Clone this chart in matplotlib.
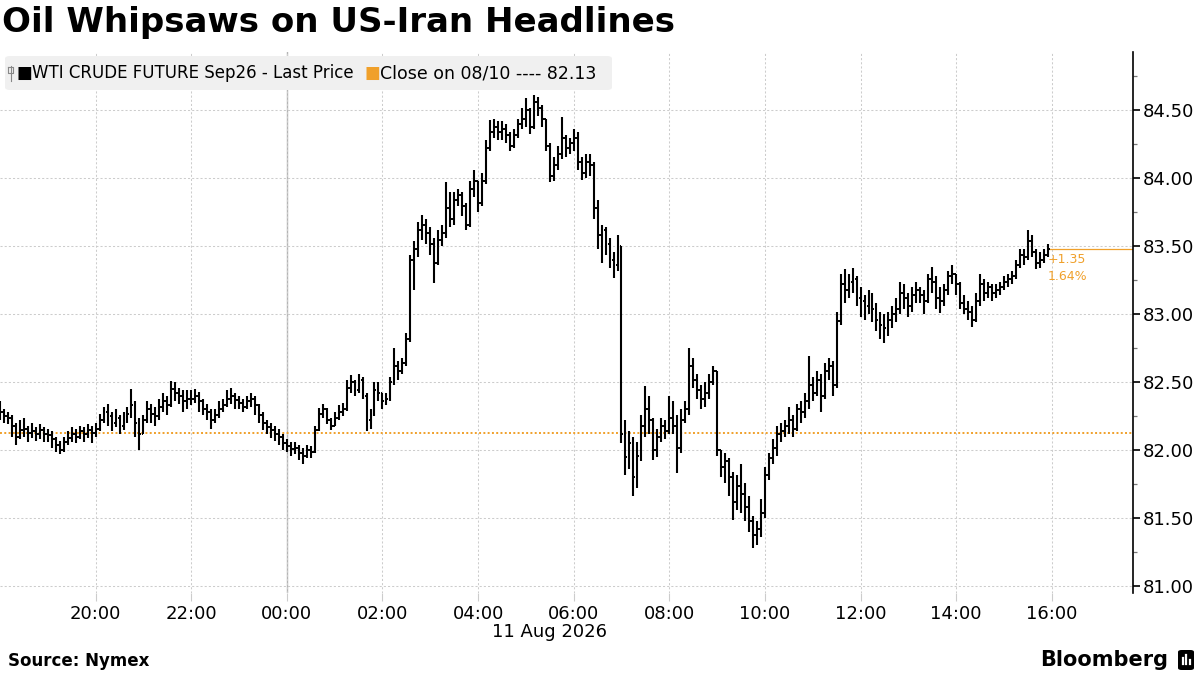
import numpy as np
import pandas as pd
import matplotlib
matplotlib.use("Agg")
import matplotlib.pyplot as plt
import matplotlib.dates as mdates
from matplotlib.patches import FancyBboxPatch
from matplotlib.lines import Line2D

ORANGE = "#f0a02a"
GRID = "#cccccc"

# WTI Sep26, 5-minute bars from 18:00 on 10 Aug to 15:55 on 11 Aug
start = "2026-08-10 18:00"
first_open = 82.32
prev_close = 82.13

closes = [
    82.28, 82.25, 82.24, 82.18, 82.10, 82.15, 82.16, 82.13, 82.14, 82.12, 82.15, 82.12,  # 18h
    82.11, 82.08, 82.04, 82.00, 82.06, 82.09, 82.12, 82.10, 82.14, 82.12, 82.15, 82.13,  # 19h
    82.16, 82.22, 82.28, 82.25, 82.20, 82.24, 82.18, 82.22, 82.27, 82.33, 82.20, 82.12,  # 20h
    82.22, 82.30, 82.27, 82.25, 82.32, 82.36, 82.33, 82.45, 82.42, 82.40, 82.36, 82.38,  # 21h
    82.38, 82.40, 82.36, 82.30, 82.28, 82.22, 82.26, 82.30, 82.33, 82.38, 82.40, 82.37,  # 22h
    82.35, 82.32, 82.36, 82.38, 82.33, 82.26, 82.20, 82.17, 82.15, 82.12, 82.10, 82.05,  # 23h
    82.03, 82.01, 82.02, 81.98, 81.96, 82.00, 81.99, 82.15, 82.27, 82.30, 82.22, 82.18,  # 00h
    82.24, 82.28, 82.30, 82.46, 82.50, 82.44, 82.52, 82.40, 82.22, 82.26, 82.44, 82.42,  # 01h
    82.36, 82.38, 82.50, 82.62, 82.58, 82.64, 82.82, 83.40, 83.48, 83.62, 83.66, 83.60,  # 02h
    83.52, 83.38, 83.55, 83.60, 83.78, 83.70, 83.84, 83.88, 83.80, 83.66, 83.92, 83.98,  # 03h
    83.82, 83.98, 84.22, 84.34, 84.38, 84.34, 84.36, 84.32, 84.24, 84.32, 84.40, 84.44,  # 04h
    84.50, 84.38, 84.56, 84.52, 84.44, 84.24, 84.02, 84.10, 84.18, 84.30, 84.22, 84.26,  # 05h
    84.30, 84.12, 84.04, 84.12, 84.10, 83.78, 83.58, 83.62, 83.52, 83.40, 83.36, 83.50,  # 06h
    82.12, 81.95, 82.05, 81.80, 81.96, 82.18, 82.30, 82.22, 82.00, 82.10, 82.18, 82.14,  # 07h
    82.24, 82.18, 82.02, 82.22, 82.30, 82.62, 82.52, 82.44, 82.38, 82.42, 82.50, 82.58,  # 08h
    82.00, 81.88, 81.92, 81.80, 81.62, 81.74, 81.68, 81.58, 81.48, 81.38, 81.42, 81.54,  # 09h
    81.82, 81.94, 82.02, 82.12, 82.14, 82.18, 82.22, 82.16, 82.30, 82.28, 82.36, 82.48,  # 10h
    82.42, 82.52, 82.40, 82.58, 82.62, 82.48, 82.95, 83.22, 83.18, 83.24, 83.26, 83.12,  # 11h
    83.10, 83.06, 83.12, 83.04, 82.96, 82.92, 82.90, 82.96, 83.00, 83.04, 83.16, 83.12,  # 12h
    83.06, 83.14, 83.18, 83.14, 83.10, 83.26, 83.24, 83.12, 83.10, 83.18, 83.28, 83.30,  # 13h
    83.22, 83.08, 83.04, 83.02, 82.96, 83.10, 83.22, 83.16, 83.20, 83.16, 83.18, 83.20,  # 14h
    83.24, 83.26, 83.28, 83.36, 83.44, 83.42, 83.54, 83.46, 83.38, 83.40, 83.44, 83.48,  # 15h
]
highs = [
    82.36, 82.30, 82.28, 82.26, 82.20, 82.22, 82.24, 82.18, 82.20, 82.17, 82.19, 82.17,
    82.16, 82.14, 82.10, 82.07, 82.10, 82.14, 82.17, 82.16, 82.18, 82.17, 82.19, 82.18,
    82.20, 82.27, 82.32, 82.34, 82.28, 82.30, 82.26, 82.28, 82.32, 82.45, 82.36, 82.24,
    82.26, 82.36, 82.34, 82.32, 82.38, 82.42, 82.40, 82.51, 82.50, 82.46, 82.44, 82.44,
    82.44, 82.45, 82.43, 82.38, 82.34, 82.30, 82.30, 82.36, 82.38, 82.44, 82.46, 82.42,
    82.40, 82.38, 82.40, 82.42, 82.40, 82.34, 82.28, 82.22, 82.20, 82.18, 82.16, 82.12,
    82.08, 82.06, 82.06, 82.04, 82.02, 82.04, 82.03, 82.18, 82.31, 82.34, 82.31, 82.24,
    82.28, 82.33, 82.35, 82.52, 82.55, 82.52, 82.56, 82.54, 82.42, 82.30, 82.50, 82.50,
    82.42, 82.42, 82.54, 82.75, 82.66, 82.68, 82.86, 83.44, 83.54, 83.68, 83.73, 83.70,
    83.64, 83.56, 83.62, 83.66, 83.97, 83.90, 83.90, 83.92, 83.90, 83.82, 83.98, 84.06,
    83.98, 84.04, 84.28, 84.43, 84.44, 84.42, 84.42, 84.40, 84.34, 84.36, 84.44, 84.52,
    84.59, 84.52, 84.61, 84.60, 84.54, 84.44, 84.26, 84.16, 84.24, 84.45, 84.32, 84.30,
    84.36, 84.34, 84.16, 84.18, 84.18, 84.12, 83.84, 83.66, 83.64, 83.56, 83.46, 83.58,
    83.50, 82.22, 82.14, 82.10, 82.06, 82.26, 82.47, 82.40, 82.24, 82.16, 82.24, 82.22,
    82.40, 82.36, 82.26, 82.30, 82.36, 82.75, 82.68, 82.56, 82.48, 82.50, 82.56, 82.62,
    82.58, 82.00, 81.98, 81.94, 81.84, 81.82, 81.90, 81.76, 81.66, 81.52, 81.48, 81.64,
    81.88, 81.98, 82.08, 82.18, 82.20, 82.22, 82.32, 82.26, 82.34, 82.36, 82.42, 82.69,
    82.54, 82.58, 82.56, 82.64, 82.68, 82.66, 83.02, 83.30, 83.33, 83.30, 83.34, 83.28,
    83.20, 83.14, 83.18, 83.16, 83.08, 83.02, 83.00, 83.02, 83.06, 83.12, 83.24, 83.22,
    83.16, 83.20, 83.24, 83.20, 83.18, 83.30, 83.35, 83.28, 83.20, 83.22, 83.32, 83.36,
    83.30, 83.24, 83.14, 83.10, 83.06, 83.16, 83.30, 83.26, 83.24, 83.22, 83.22, 83.24,
    83.28, 83.30, 83.32, 83.40, 83.48, 83.48, 83.62, 83.58, 83.48, 83.46, 83.48, 83.52,
]
lows = [
    82.22, 82.20, 82.19, 82.10, 82.04, 82.08, 82.10, 82.06, 82.09, 82.07, 82.08, 82.06,
    82.06, 82.02, 81.99, 81.97, 81.99, 82.04, 82.06, 82.05, 82.08, 82.06, 82.09, 82.05,
    82.10, 82.14, 82.20, 82.18, 82.14, 82.17, 82.12, 82.15, 82.20, 82.24, 82.10, 82.00,
    82.12, 82.20, 82.20, 82.18, 82.22, 82.28, 82.26, 82.32, 82.36, 82.34, 82.28, 82.30,
    82.33, 82.35, 82.28, 82.26, 82.22, 82.16, 82.20, 82.24, 82.28, 82.32, 82.34, 82.30,
    82.30, 82.28, 82.30, 82.32, 82.26, 82.20, 82.15, 82.12, 82.09, 82.07, 82.04, 82.00,
    81.99, 81.96, 81.97, 81.93, 81.90, 81.94, 81.94, 81.98, 82.14, 82.24, 82.19, 82.15,
    82.18, 82.22, 82.25, 82.29, 82.42, 82.40, 82.42, 82.38, 82.14, 82.16, 82.25, 82.36,
    82.30, 82.33, 82.36, 82.48, 82.52, 82.56, 82.62, 82.80, 83.18, 83.42, 83.55, 83.52,
    83.44, 83.23, 83.36, 83.50, 83.56, 83.64, 83.66, 83.80, 83.72, 83.62, 83.64, 83.86,
    83.75, 83.80, 83.96, 84.20, 84.30, 84.28, 84.28, 84.26, 84.20, 84.22, 84.30, 84.36,
    84.38, 84.33, 84.36, 84.46, 84.38, 84.20, 83.97, 83.98, 84.06, 84.14, 84.16, 84.18,
    84.20, 84.06, 83.99, 84.00, 84.02, 83.70, 83.48, 83.38, 83.44, 83.34, 83.27, 83.32,
    82.05, 81.82, 81.86, 81.66, 81.72, 81.92, 82.10, 82.12, 81.93, 81.95, 82.06, 82.08,
    82.12, 82.12, 81.83, 81.98, 82.20, 82.26, 82.46, 82.38, 82.30, 82.32, 82.38, 82.48,
    81.96, 81.80, 81.76, 81.66, 81.49, 81.56, 81.54, 81.48, 81.40, 81.28, 81.30, 81.36,
    81.50, 81.78, 81.90, 81.96, 82.06, 82.10, 82.12, 82.10, 82.14, 82.20, 82.24, 82.30,
    82.36, 82.40, 82.28, 82.38, 82.52, 82.40, 82.46, 82.92, 83.08, 83.12, 83.16, 83.06,
    82.98, 82.96, 83.00, 82.94, 82.88, 82.82, 82.79, 82.84, 82.90, 82.94, 83.00, 83.04,
    82.98, 83.02, 83.08, 83.08, 83.00, 83.08, 83.16, 83.04, 83.01, 83.06, 83.14, 83.22,
    83.14, 83.04, 83.00, 82.96, 82.91, 82.94, 83.06, 83.10, 83.12, 83.10, 83.12, 83.14,
    83.18, 83.20, 83.22, 83.26, 83.34, 83.36, 83.40, 83.42, 83.33, 83.34, 83.38, 83.42,
]

y_ticks = [81.00, 81.50, 82.00, 82.50, 83.00, 83.50, 84.00, 84.50]
x_tick_labels = ["20:00", "22:00", "00:00", "02:00", "04:00", "06:00", "08:00",
                 "10:00", "12:00", "14:00", "16:00"]

times = pd.date_range(start, periods=len(closes), freq="5min")
x = mdates.date2num(times)
opens = [first_open] + closes[:-1]
half = 2.4 / 1440  # tick half-width, days

fig = plt.figure(figsize=(12, 6.75), dpi=100)
ax = fig.add_axes([0, 0.1215, 0.9442, 0.8015])

# OHLC bars
ax.vlines(x, lows, highs, color="black", lw=1.5, zorder=3)
ax.hlines(opens, x - half, x, color="black", lw=1.4, zorder=3)
ax.hlines(closes, x, x + half, color="black", lw=1.4, zorder=3)

# previous close and last price
ax.axhline(prev_close, color=ORANGE, linestyle=(0, (1, 1.2)), lw=1.4, zorder=2)
x_right = mdates.date2num(times[0] + pd.Timedelta(hours=23.7))
ax.hlines(closes[-1], x[-1], x_right, color=ORANGE, lw=0.9, zorder=2)
chg = closes[-1] - prev_close
ax.annotate(f"+{chg:.2f}", (x[-1], closes[-1]), xytext=(0, -3),
            textcoords="offset points", va="top", ha="left",
            fontsize=9, color=ORANGE)
ax.annotate(f"{chg / prev_close * 100:.2f}%", (x[-1], closes[-1]), xytext=(0, -15),
            textcoords="offset points", va="top", ha="left",
            fontsize=9, color=ORANGE)

ax.set_xlim(x[0], x_right)
ax.set_ylim(80.95, 84.93)

tick_pos = mdates.date2num(pd.to_datetime([
    "2026-08-10 " + t if t >= "18:00" else "2026-08-11 " + t for t in x_tick_labels]))
ax.set_xticks(tick_pos)
ax.set_xticklabels(x_tick_labels)
ax.yaxis.tick_right()
ax.set_yticks(y_ticks)
ax.set_yticklabels([f"{v:.2f}" for v in y_ticks])
ax.set_yticks([v + 0.25 for v in y_ticks], minor=True)

ax.grid(axis="both", which="major", color=GRID, linestyle=(0, (2, 2)), lw=0.75, zorder=0)
midnight = mdates.date2num(pd.Timestamp("2026-08-11 00:00"))
ax.axvline(midnight, color="#b4b4b4", lw=1.0, zorder=1)

ax.tick_params(axis="x", length=6, color=GRID, labelsize=13, pad=3)
ax.tick_params(axis="y", which="major", direction="out", length=5, width=1.2,
               color="black", labelsize=13, pad=2)
ax.tick_params(axis="y", which="minor", direction="out", length=3, width=0.9, color="#777777")
for side in ["top", "left", "bottom"]:
    ax.spines[side].set_visible(False)
ax.spines["right"].set_linewidth(1.2)
ax.spines["right"].set_color("black")

ax.text(549 / 1133, -0.073, "11 Aug 2026", transform=ax.transAxes,
        ha="center", va="center", fontsize=13)

# title
fig.text(0.002, 0.966, "Oil Whipsaws on US-Iran Headlines", fontsize=24.5,
         fontweight="bold", va="center", ha="left")

# legend box
fig.patches.append(FancyBboxPatch((5 / 1200, 1 - 90 / 675), 607 / 1200, 34 / 675,
                                  boxstyle="round,pad=0,rounding_size=0.004",
                                  transform=fig.transFigure, facecolor="#f0f0f0",
                                  edgecolor="none", zorder=5))
fig.add_artist(Line2D([10.5 / 1200, 10.5 / 1200], [1 - 66 / 675, 1 - 81 / 675],
                      transform=fig.transFigure, color="#888888", lw=0.8, zorder=6))
fig.add_artist(Line2D([8 / 1200, 13 / 1200, 13 / 1200, 8 / 1200, 8 / 1200],
                      [1 - 67 / 675, 1 - 67 / 675, 1 - 73 / 675, 1 - 73 / 675, 1 - 67 / 675],
                      transform=fig.transFigure, color="#888888", lw=0.8, zorder=6))
ly = 1 - 73 / 675
fig.text(17 / 1200, ly, "■", fontsize=12, color="black", va="center", zorder=6)
fig.text(32 / 1200, ly, "WTI CRUDE FUTURE Sep26 - Last Price", fontsize=12,
         va="center", zorder=6)
fig.text(364 / 1200, ly, "■", fontsize=12, color=ORANGE, va="center", zorder=6)
fig.text(380 / 1200, ly, f"Close on 08/10 ---- {prev_close:.2f}", fontsize=12.5,
         va="center", zorder=6)

# footer
fig.text(8 / 1200, 1 - 661 / 675, "Source: Nymex", fontsize=12, fontweight="bold",
         va="center")
fig.text(1168 / 1200, 1 - 660 / 675, "Bloomberg", fontsize=15, fontweight="bold",
         va="center", ha="right")
fig.patches.append(FancyBboxPatch((1178 / 1200, 1 - 670 / 675), 16 / 1200, 20 / 675,
                                  boxstyle="round,pad=0,rounding_size=0.003",
                                  transform=fig.transFigure, facecolor="black",
                                  edgecolor="none"))
for bx, bh in [(1182.5, 6), (1186, 9), (1189.5, 4)]:
    fig.add_artist(Line2D([bx / 1200, bx / 1200], [1 - 664 / 675, 1 - (664 - bh) / 675],
                          transform=fig.transFigure, color="white", lw=1.6))

fig.savefig("out.png", dpi=100)
